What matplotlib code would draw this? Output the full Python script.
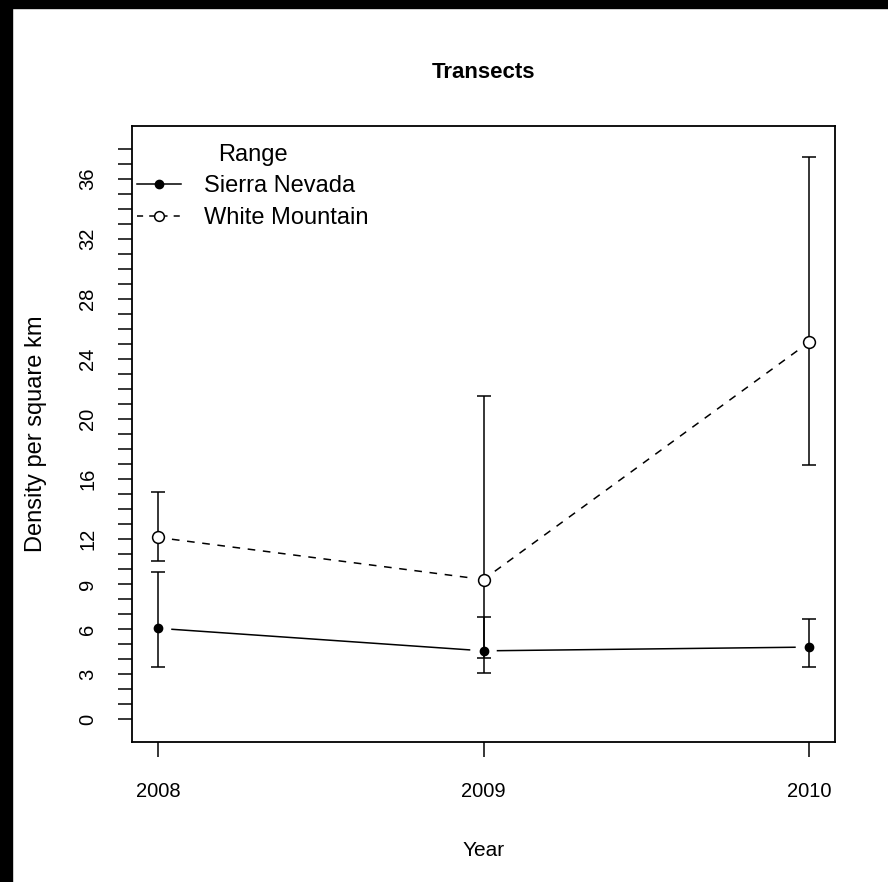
import numpy as np
import matplotlib
matplotlib.use('Agg')
import matplotlib.pyplot as plt
from matplotlib.patches import Rectangle
from matplotlib.lines import Line2D

plt.rcParams['font.family'] = ['Liberation Sans', 'DejaVu Sans']

# data
years = [2008, 2009, 2010]
sn_mean = [6.05, 4.55, 4.8]
sn_low = [3.5, 3.1, 3.45]
sn_high = [9.8, 6.8, 6.65]
wm_mean = [12.1, 9.3, 25.1]
wm_low = [10.5, 4.1, 16.9]
wm_high = [15.1, 21.5, 37.45]
ytick_vals = list(range(0, 39))
ytick_shown = [0, 3, 6, 9, 12, 16, 20, 24, 28, 32, 36]

W, H = 888, 882
fig = plt.figure(figsize=(W / 100, H / 100), dpi=100)
ax = fig.add_axes([132 / W, 1 - 742 / H, 703 / W, (742 - 125.7) / H])

ax.set_xlim(2008 - 0.08, 2010 + 0.08)
ax.set_ylim(0 - 0.04 * 38, 38 + 0.04 * 38)


def gapped_line(x, y, gap, **kw):
    # R type="b": line segments stop short of the points
    pts = ax.transData.transform(np.column_stack([x, y]))
    inv = ax.transData.inverted()
    for p0, p1 in zip(pts[:-1], pts[1:]):
        d = p1 - p0
        u = d / np.hypot(*d)
        a = inv.transform(p0 + u * gap)
        b = inv.transform(p1 - u * gap)
        ax.plot([a[0], b[0]], [a[1], b[1]], **kw)


gapped_line(years, sn_mean, 14, color='black', lw=1.1, ls='-')
gapped_line(years, wm_mean, 14, color='black', lw=1.1, ls=(0, (5, 5)))

for mean, lo, hi in [(sn_mean, sn_low, sn_high), (wm_mean, wm_low, wm_high)]:
    m = np.array(mean)
    ax.errorbar(years, m, yerr=[m - np.array(lo), np.array(hi) - m], fmt='none',
                ecolor='black', elinewidth=1.1, capsize=5, capthick=1.1)

ax.plot(years, sn_mean, ls='none', marker='o', ms=6, color='black')
ax.plot(years, wm_mean, ls='none', marker='o', ms=8.5, mfc='white', mec='black', mew=1.1)

ax.set_xticks(years)
ax.set_xticklabels([str(y) for y in years])
ax.set_yticks(ytick_vals)
ax.set_yticklabels([str(v) if v in ytick_shown else '' for v in ytick_vals])
ax.tick_params(axis='x', length=11, width=1.1, pad=18, labelsize=14.5)
ax.tick_params(axis='y', length=10, width=1.1, pad=15, labelsize=14.5, labelrotation=90)
for t in ax.get_yticklabels():
    t.set_va('center')
for s in ax.spines.values():
    s.set_linewidth(1.3)

handles = [
    Line2D([], [], color='black', lw=1.1, ls='-', marker='o', ms=6),
    Line2D([], [], color='black', lw=1.1, ls=(0, (4, 4)), marker='o', ms=7, mfc='white', mew=1.1),
]
leg = ax.legend(handles, ['Sierra Nevada', 'White Mountain'], title='Range',
                loc='upper left', bbox_to_anchor=(137 / W, 1 - 144 / H),
                bbox_transform=fig.transFigure, frameon=False, fontsize=17,
                title_fontsize=17, handlelength=1.85, handletextpad=1.0,
                labelspacing=0.4, borderpad=0, borderaxespad=0)

fig.text(483.5 / W, 1 - 72 / H, 'Transects', ha='center', va='center',
         fontsize=16, fontweight='bold')
fig.text(483.5 / W, 1 - 850 / H, 'Year', ha='center', va='center', fontsize=15)
fig.text(36 / W, 1 - 434 / H, 'Density per square km', ha='center', va='center',
         rotation=90, fontsize=17)

# black strips along the top and left edges
fig.patches.append(Rectangle((0, 1 - 8 / H), 1, 8 / H, transform=fig.transFigure,
                             color='black', zorder=10))
fig.patches.append(Rectangle((0, 0), 12 / W, 1, transform=fig.transFigure,
                             color='black', zorder=10))

fig.savefig('out.png', dpi=100)
